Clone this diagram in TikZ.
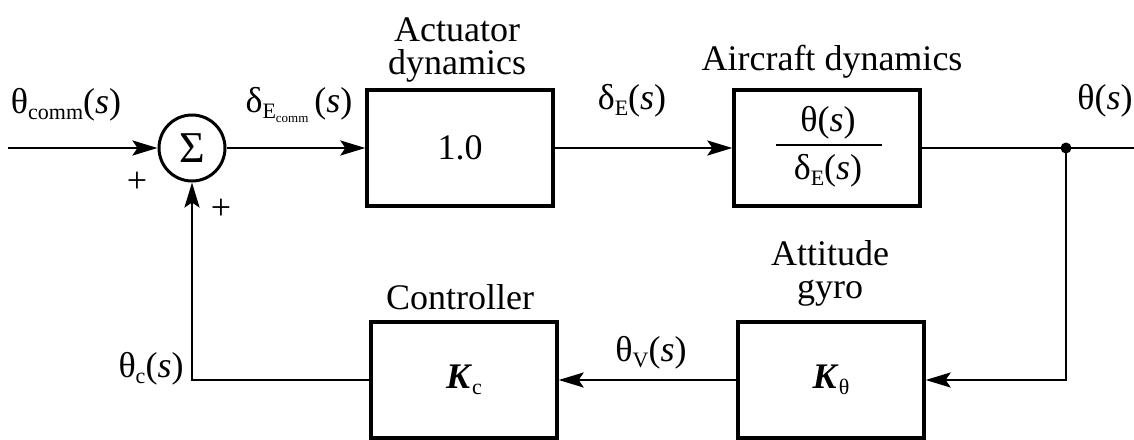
\documentclass[tikz,border=0pt]{standalone}
\usepackage{fontspec}
\setmainfont{Liberation Serif}
\usetikzlibrary{arrows.meta}
\newcommand\lbl{\fontsize{36}{33}\selectfont}
\newcommand\lo[1]{\raisebox{-6pt}{\fontsize{22}{22}\selectfont #1}}
\newcommand\loo[1]{\raisebox{-4pt}{\fontsize{13}{13}\selectfont #1}}
\begin{document}
\begin{tikzpicture}[x=1pt,y=-1pt,
  blk/.style={draw, line width=3.3pt, minimum width=186pt, minimum height=116pt, inner sep=0pt, font=\lbl},
  sig/.style={line width=2.6pt},
  arr/.style={sig, -{Stealth[length=25pt,width=15pt,inset=5pt]}},
  lab/.style={font=\lbl, inner sep=0pt, align=center}]
\useasboundingbox (0,0) rectangle (1134,439);
% blocks
\node[draw, circle, minimum size=66pt, line width=3pt, inner sep=0pt, font=\fontsize{44}{44}\selectfont] (sum) at (192,148) {Σ};
\node[blk] (act) at (460,148) {1.0};
\node[blk] (air) at (827,148) {};
\node[blk] (gyro) at (831,380) {\textbf{\textit{K}}\lo{θ}};
\node[blk] (ctrl) at (464,380) {\textbf{\textit{K}}\lo{c}};
% fraction inside aircraft block
\node[lab] (num) at (828,123) {θ(\textit{s})};
\node[lab] (den) at (828,171) {δ\lo{E}(\textit{s})};
\draw[line width=2.6pt] (776,145) -- (882,145);
% coordinates
\coordinate (in) at (8,148);
\coordinate (j) at (1066,148);
\coordinate (out) at (1134,148);
% connectors
\draw[arr] (in) -- (sum);
\draw[arr] (sum) -- (act);
\draw[arr] (act) -- (air);
\draw[sig] (air) -- (out);
\fill (j) circle (5.5pt);
\draw[arr] (j) |- (gyro);
\draw[arr] (gyro) -- (ctrl);
\draw[arr] (ctrl) -| (sum);
% titles
\node[lab] (tact) at (457,50) {Actuator\\dynamics};
\node[lab] (tair) at (832,62) {Aircraft dynamics};
\node[lab] (tctrl) at (460,297) {Controller};
\node[lab] (tgyro) at (830,273) {Attitude\\gyro};
% signal labels
\node[lab] (lin) at (66,105) {θ\lo{comm}(\textit{s})};
\node[lab] (lec) at (299,105) {δ\lo{E\loo{comm}}\,(\textit{s})};
\node[lab] (le) at (632,101) {δ\lo{E}(\textit{s})};
\node[lab] (lout) at (1105,101) {θ(\textit{s})};
\node[lab] (lc) at (151,369) {θ\lo{c}(\textit{s})};
\node[lab] (lv) at (651,353) {θ\lo{V}(\textit{s})};
\node[lab] (p1) at (137,182) {+};
\node[lab] (p2) at (221,209) {+};
\end{tikzpicture}
\end{document}
